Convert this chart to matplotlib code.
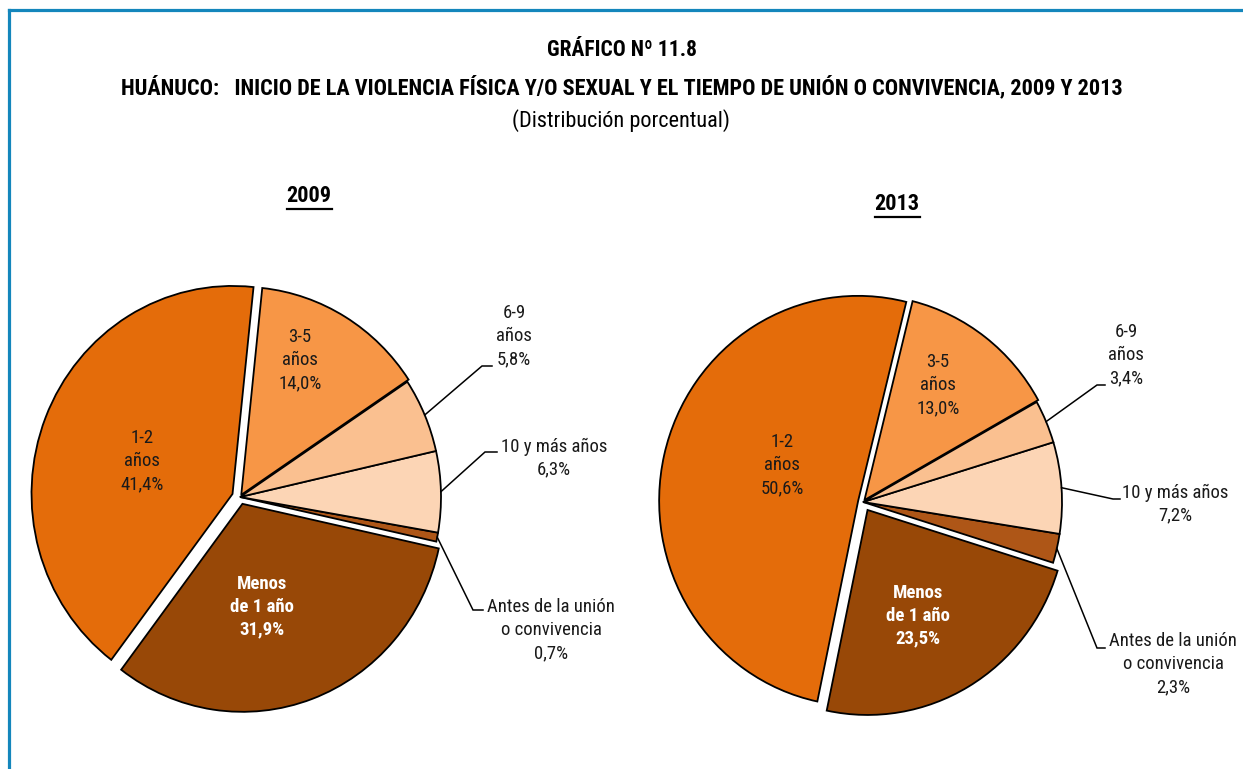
import numpy as np
import matplotlib
matplotlib.use("Agg")
import matplotlib.pyplot as plt
from matplotlib.lines import Line2D

plt.rcParams['font.family'] = ['Roboto Condensed', 'DejaVu Sans']

# ================= DATOS =================
categorias = ['1-2\naños', 'Menos\nde 1 año', 'Antes de la unión\no convivencia',
              '10 y más años', '6-9\naños', '3-5\naños']
valores_2009 = [41.4, 31.9, 0.7, 6.3, 5.8, 14.0]
valores_2013 = [50.6, 23.5, 2.3, 7.2, 3.4, 13.0]
anios = ['2009', '2013']
colores = ['#E46C0A', '#984807', '#AE5617', '#FCD5B5', '#FAC090', '#F79646']
# =========================================

W, H = 1243, 769
TXT = '#1a1a1a'
BORDE = '#1486BC'

# layout en pixeles (centro, radios, posiciones de rotulos)
pies = [
    dict(vals=valores_2009, x0=0, x1=W / 2, cx=240, cy=497, rx=201, ry=208,
         start=84, explode=[0.04, 0.035, 0, 0, 0, 0.012],
         title=(309, 196),
         txt=[(142, 461), (262, 607), (551, 630), (554, 458), (514, 336), (300, 360)],
         elbow={2: ((473, 610), (483, 610)), 3: ((485, 452), (497, 452)),
                4: ((482, 366), (492, 366))}),
    dict(vals=valores_2013, x0=W / 2, x1=W, cx=863, cy=502, rx=199, ry=205,
         start=76, explode=[0.025, 0.045, 0, 0, 0, 0.012],
         title=(897, 204),
         txt=[(782, 465), (918, 616), (1173, 664), (1175, 504), (1126, 355), (938, 385)],
         elbow={2: ((1097, 648), (1105, 648)), 3: ((1113, 499), (1120, 499)),
                4: ((1097, 385), (1105, 385))}),
]


def to_data(p, px, py):
    return (px - p['cx']) / p['rx'], (p['cy'] - py) / p['ry']


def fmt(cat, v):
    return f"{cat}\n{v:.1f}%".replace('.', ',')


fig = plt.figure(figsize=(W / 100, H / 100), dpi=100)

# titulos
fig.text(0.5, 1 - 50 / H, 'GRÁFICO Nº 11.8', ha='center', va='center',
         fontsize=15.5, fontweight='bold', color='black')
fig.text(0.5, 1 - 87 / H,
         'HUÁNUCO:   INICIO DE LA VIOLENCIA FÍSICA Y/O SEXUAL Y EL TIEMPO DE UNIÓN O CONVIVENCIA, 2009 Y 2013',
         ha='center', va='center', fontsize=16, fontweight='bold', color='black')
fig.text(0.5, 1 - 121 / H, '(Distribución porcentual)', ha='center', va='center',
         fontsize=16, color='black')

titulos = []
for p, anio in zip(pies, anios):
    ax = fig.add_axes([p['x0'] / W, 0, (p['x1'] - p['x0']) / W, 1])
    wedges, _ = ax.pie(p['vals'], colors=colores, startangle=p['start'],
                       explode=p['explode'], counterclock=True,
                       wedgeprops=dict(edgecolor='black', linewidth=1.3))
    ax.set_aspect('auto')
    ax.set_xlim(to_data(p, p['x0'], 0)[0], to_data(p, p['x1'], 0)[0])
    ax.set_ylim(to_data(p, 0, H)[1], to_data(p, 0, 0)[1])
    ax.axis('off')

    for i, (w, cat, v) in enumerate(zip(wedges, categorias, p['vals'])):
        tx, ty = to_data(p, *p['txt'][i])
        if i == 1:
            ax.text(tx, ty, fmt(cat, v), ha='center', va='center', fontsize=13.5,
                    fontweight='bold', color='white', linespacing=1.35)
        else:
            ax.text(tx, ty, fmt(cat, v), ha='center', va='center', fontsize=13.5,
                    color=TXT, linespacing=1.35, multialignment='center')
        if i in p['elbow']:
            ang = np.deg2rad((w.theta1 + w.theta2) / 2)
            (ex, ey), (fx, fy) = p['elbow'][i]
            x_e, y_e = to_data(p, ex, ey)
            x_f, y_f = to_data(p, fx, fy)
            ax.plot([np.cos(ang), x_e, x_f], [np.sin(ang), y_e, y_f],
                    color='black', lw=1.1, solid_joinstyle='miter')

    t = fig.text(p['title'][0] / W, 1 - p['title'][1] / H, anio, ha='center',
                 va='center', fontsize=16, fontweight='bold', color='black')
    titulos.append(t)

# subrayado de los años
fig.canvas.draw()
rend = fig.canvas.get_renderer()
for t in titulos:
    bb = t.get_window_extent(rend)
    y = (bb.y0 - 2) / H
    fig.add_artist(Line2D([bb.x0 / W, bb.x1 / W], [y, y], color='black', lw=1.6))

# marco azul (izquierda y arriba)
fig.add_artist(Line2D([8.5 / W, 8.5 / W], [0, 1 - 9.5 / H], color=BORDE, lw=2.3))
fig.add_artist(Line2D([8.5 / W, 1], [1 - 9.5 / H, 1 - 9.5 / H], color=BORDE, lw=2.3))

fig.savefig('out.png', dpi=100)
